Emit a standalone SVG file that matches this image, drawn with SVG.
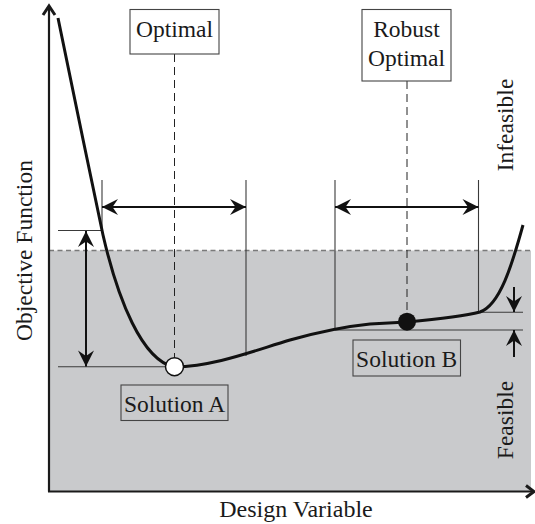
<svg xmlns="http://www.w3.org/2000/svg" width="535" height="524" viewBox="0 0 535 524">
  <style>
    text { font-family: "Liberation Serif", "Times New Roman", serif; font-size: 23.5px; fill: #1a1a1a; }
    .mid { text-anchor: middle; }
    .thin { stroke: #3a3a3a; stroke-width: 1.1; fill: none; }
    .dash { stroke: #222; stroke-width: 1; stroke-dasharray: 8 5; fill: none; }
    .arrow { stroke: #111; stroke-width: 2; fill: none; }
    .box { stroke: #444; stroke-width: 1.1; }
    .axis { stroke: #1a1a1a; stroke-width: 2.2; fill: none; }
  </style>
  <defs>
    <marker id="head" viewBox="-17 -9 19 18" refX="0" refY="0" markerWidth="19" markerHeight="18" markerUnits="userSpaceOnUse" orient="auto-start-reverse">
      <path d="M0,0 L-16,-8 L-10.5,0 L-16,8 Z" fill="#111"/>
    </marker>
  </defs>

  <!-- feasible region -->
  <rect x="49" y="250.5" width="482" height="241" fill="#c9cacc"/>
  <line x1="49" y1="250.5" x2="531" y2="250.5" stroke="#7a7a7a" stroke-width="1.6" stroke-dasharray="5 3.5"/>

  <!-- axes -->
  <g id="axes">
    <line class="axis" x1="49" y1="7" x2="49" y2="491.5"/>
    <line class="axis" x1="48" y1="491.5" x2="533" y2="491.5"/>
    <polyline points="43,15 49,6 55,15" fill="none" stroke="#1a1a1a" stroke-width="3"/>
    <polyline points="526,485.5 534,491.5 526,497.5" fill="none" stroke="#1a1a1a" stroke-width="3"/>
  </g>

  <g id="connectors">
    <!-- reference lines -->
    <line class="thin" x1="58" y1="230.5" x2="102" y2="230.5"/>
    <line class="thin" x1="58" y1="366.7" x2="168" y2="366.7"/>
    <line class="thin" x1="335" y1="330" x2="523" y2="330"/>
    <line class="thin" x1="480" y1="312.3" x2="523" y2="312.3"/>
    <line class="thin" x1="102" y1="180" x2="102" y2="232"/>
    <line class="thin" x1="246" y1="180" x2="246" y2="356"/>
    <line class="thin" x1="335" y1="180" x2="335" y2="330"/>
    <line class="thin" x1="478.5" y1="180" x2="478.5" y2="313"/>
    <!-- dashed guides -->
    <line class="dash" x1="174.5" y1="54" x2="174.5" y2="358"/>
    <line class="dash" x1="407" y1="81" x2="407" y2="313"/>
    <!-- ranges -->
    <line class="arrow" x1="102" y1="207" x2="246" y2="207" marker-start="url(#head)" marker-end="url(#head)"/>
    <line class="arrow" x1="335" y1="207" x2="478.5" y2="207" marker-start="url(#head)" marker-end="url(#head)"/>
    <line class="arrow" x1="86" y1="231" x2="86" y2="366.5" marker-start="url(#head)" marker-end="url(#head)"/>
    <line class="arrow" x1="514" y1="287" x2="514" y2="312" marker-end="url(#head)"/>
    <line class="arrow" x1="514" y1="357" x2="514" y2="330" marker-end="url(#head)"/>
  </g>

  <!-- objective curve -->
  <path id="curve" d="M58,18 C72,85 88,165 103,235 C118,300 142,360 174,367 C215,366 250,352 290,340 C315,333 340,327 370,324 L407,322 C440,319 465,316 480,312 C500,305 512,265 523,225" fill="none" stroke="#111" stroke-width="3"/>

  <g id="solution-a-point"><circle cx="174.5" cy="366.7" r="9" fill="#fff" stroke="#111" stroke-width="1.5"/></g>
  <g id="solution-b-point"><circle cx="407" cy="321.7" r="9" fill="#111"/></g>

  <g id="optimal">
    <rect class="box" x="130" y="9.5" width="89" height="44.5" fill="#fff"/>
    <text class="mid" x="174.5" y="37">Optimal</text>
  </g>
  <g id="robust-optimal">
    <rect class="box" x="362" y="9.5" width="89" height="71.5" fill="#fff"/>
    <text class="mid" x="406.5" y="37">Robust</text>
    <text class="mid" x="406.5" y="66">Optimal</text>
  </g>
  <g id="solution-a">
    <rect class="box" x="121" y="385" width="107" height="35.5" fill="#c9cacc"/>
    <text class="mid" x="174.5" y="412">Solution A</text>
  </g>
  <g id="solution-b">
    <rect class="box" x="353" y="340" width="107.5" height="36" fill="#c9cacc"/>
    <text class="mid" x="406.7" y="367">Solution B</text>
  </g>

  <g id="labels">
    <text class="mid" transform="translate(32,250.5) rotate(-90)">Objective Function</text>
    <text class="mid" x="296" y="517" style="font-size:24px">Design Variable</text>
    <text class="mid" transform="translate(513,125) rotate(-90)">Infeasible</text>
    <text class="mid" transform="translate(513,420) rotate(-90)">Feasible</text>
  </g>
</svg>
